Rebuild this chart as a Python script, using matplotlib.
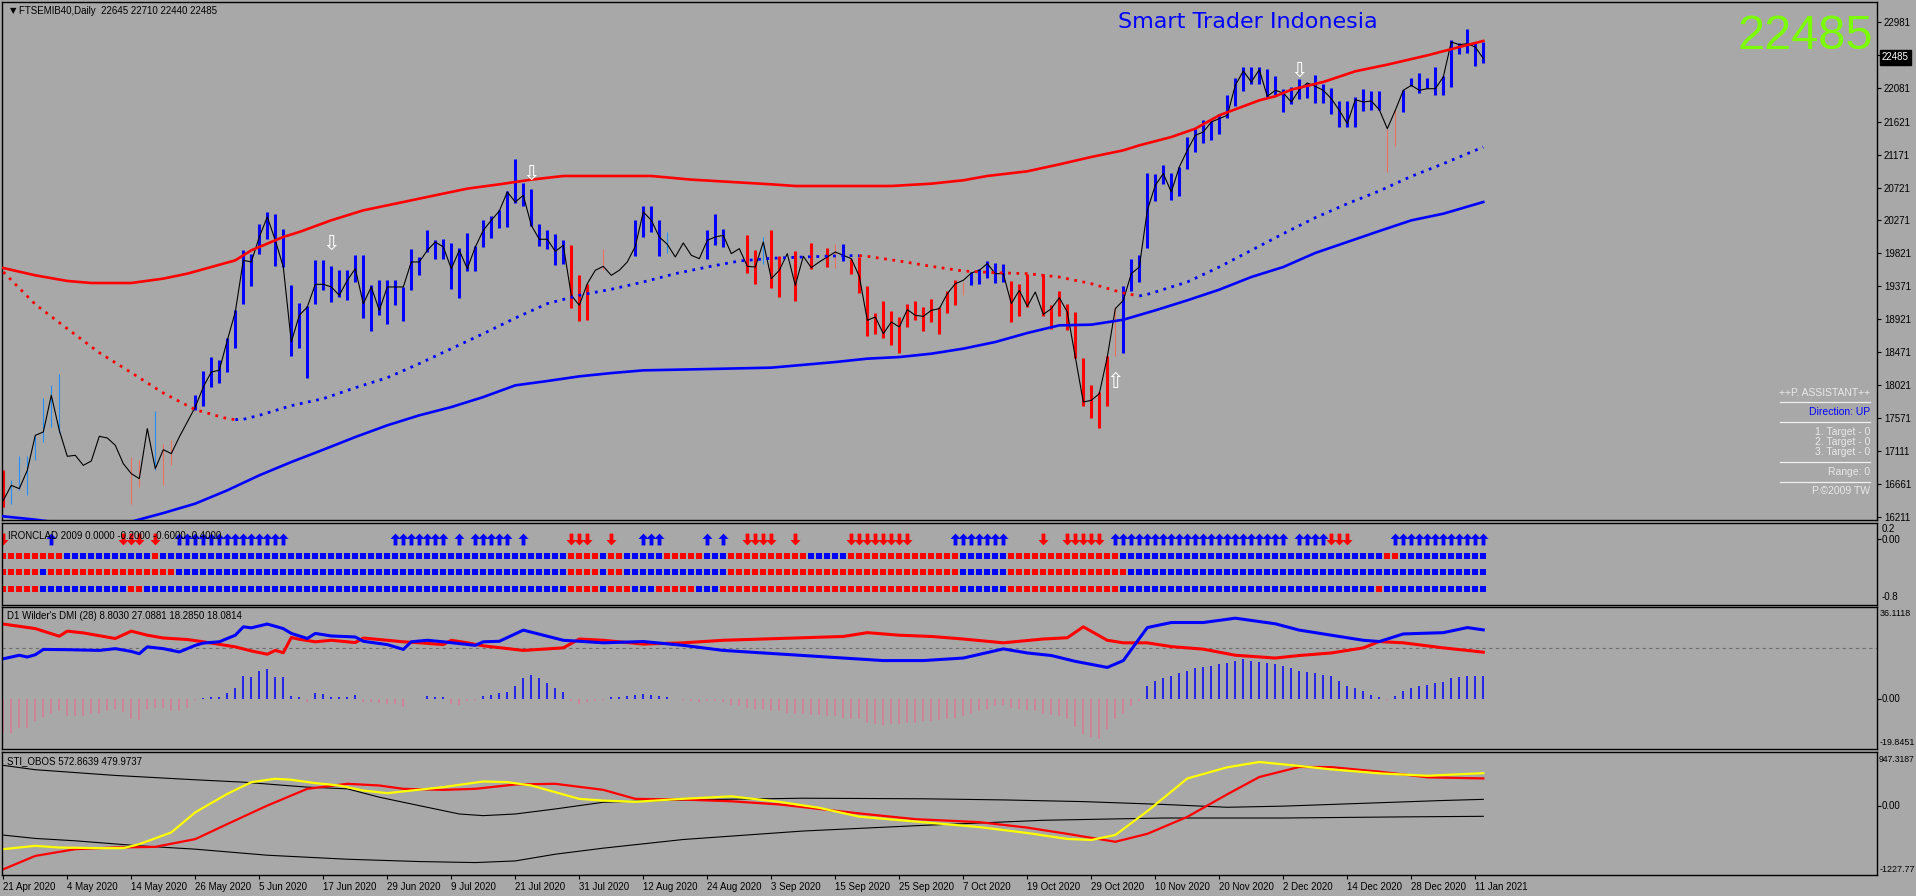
import matplotlib.pyplot as plt
from matplotlib.path import Path
from matplotlib.lines import Line2D

W, H = 1916, 896
BG = "#a8a8a8"
plt.rcParams["font.family"] = ["Liberation Sans", "DejaVu Sans"]

# ---------------- data ----------------
date_idx = [0, 8, 16, 24, 32, 40, 48, 56, 64, 72, 80, 88, 96, 104, 112, 120,
            128, 136, 144, 152, 160, 168, 176, 184]
date_labels = ["21 Apr 2020", "4 May 2020", "14 May 2020", "26 May 2020", "5 Jun 2020",
               "17 Jun 2020", "29 Jun 2020", "9 Jul 2020", "21 Jul 2020", "31 Jul 2020",
               "12 Aug 2020", "24 Aug 2020", "3 Sep 2020", "15 Sep 2020", "25 Sep 2020",
               "7 Oct 2020", "19 Oct 2020", "29 Oct 2020", "10 Nov 2020", "20 Nov 2020",
               "2 Dec 2020", "14 Dec 2020", "28 Dec 2020", "11 Jan 2021"]

close = [16442, 16647, 16602, 16853, 17331, 17377, 17879, 17400, 17044, 17058,
         16921, 16980, 17318, 17295, 17195, 16944, 16807, 16739, 17423, 16875,
         17135, 17081, 17309, 17514, 17719, 17993, 18198, 18221, 18631, 19019,
         19725, 19703, 20045, 20318, 19999, 19634, 18608, 18973, 19087, 19397,
         19397, 19361, 19247, 19452, 19611, 19133, 19361, 19041, 19361, 19361,
         19361, 19703, 19703, 19862, 19976, 19908, 19611, 19862, 19611, 19908,
         20136, 20273, 20400, 20660, 20523, 20615, 20204, 20013, 20013, 19848,
         19931, 19247, 19110, 19406, 19589, 19643, 19520, 19589, 19703, 19917,
         20387, 20273, 20045, 19944, 19771, 19963, 19794, 19748, 19999, 20045,
         20067, 19817, 19885, 19643, 19634, 19976, 19475, 19589, 19817, 19383,
         19780, 19625, 19703, 19771, 19839, 19794, 19748, 19507, 18905, 18950,
         18722, 18882, 18813, 19051, 18973, 18959, 19041, 19064, 19269, 19406,
         19452, 19552, 19589, 19680, 19543, 19543, 19132, 19315, 19096, 19292,
         18986, 19064, 19214, 19018, 18403, 17787, 17810, 17901, 18403, 19064,
         19178, 19543, 19634, 20409, 20751, 20911, 20660, 21002, 21230, 21435,
         21481, 21618, 21663, 21709, 22119, 22315, 22165, 22333, 21969, 22051,
         22014, 21891, 22060, 22151, 22105, 22051, 21937, 21777, 21595, 21923,
         21891, 21905, 21786, 21526, 21777, 22051, 22119, 22051, 22073, 22073,
         22233, 22712, 22675, 22689, 22643, 22485]

# B thick blue, R thick red, b thin blue, r thin salmon, . none
bar_kind = ("Rbbbbbbb.." "......rr.b" "rr..BBBBBB" + "B" * 40 +
            "BRRR.r...B" "BBBb....BB" "B..RRbRR.R" ".R.RrBRRRR" + "R" * 10 +
            "rBBBBBRRR." "RRRRRRRRRr" + "B" * 30 + "BBBrrBBBBB" "BBBBBB")

N = None
bar_hi = [16853, 16716, 17044, 17044, 17331, 17842, 18015, 18175, N, N,
          N, N, N, N, N, N, 17035, 16998, N, 17660,
          17217, 17263, N, N, 17879, 18207, 18398, 18366, 18663, 19041,
          19862, 19817, 20218, 20387, 20364, 20159, 19383, 19146, 19096, 19725,
          19725, 19648, 19589, 19589, 19794, 19803, 19383, 19452, 19452, 19452,
          19361, 19885, 19771, 20145, 19999, 20022, 19967, 19899, 20104, 19917,
          20282, 20332, 20409, 20669, 21116, 20783, 20706, 20227, 20145, 20090,
          19999, 19940, 19520, 19406, N, 19876, N, N, N, 20282,
          20464, 20464, 20273, 20113, N, N, N, N, 20136, 20364,
          20159, N, N, 20067, 19862, 20045, 20136, 19780, N, 19849,
          N, 19967, N, 19899, 19954, 19954, 19748, 19771, 19370, 19009,
          19164, 19028, 18950, 19123, 19164, 19087, 19201, 19087, 19301, 19452,
          19429, 19566, 19611, 19712, 19689, 19680, 19438, 19397, 19543, N,
          19543, 19110, 19301, 19132, 19018, 18389, 18015, 17924, 18412, 19087,
          19369, 19748, 19794, 20924, 20911, 21025, 20924, 21002, 21412, 21526,
          21640, 21640, 21731, 21991, 22224, 22370, 22370, 22370, 22347, 22242,
          22073, 22096, 22201, 22151, 22256, 22142, 22087, 21900, 21900, 21959,
          22073, 22037, 22037, 21526, 21777, 22060, 22219, 22292, 22219, 22370,
          22242, 22735, 22698, 22894, 22712, 22712]
bar_lo = [16351, 16396, 16579, 16511, 16989, 17240, 17445, 17363, N, N,
          N, N, N, N, N, N, 16396, 16625, N, 16862,
          16647, 16921, N, N, 17673, 17733, 17993, 18047, 18198, 18526,
          19133, 19370, 19808, 20013, 19643, 19634, 18412, 18531, 18116, 19133,
          19315, 19155, 19224, 19187, 19429, 18941, 18759, 18973, 18859, 19119,
          18895, 19324, 19520, 19839, 19748, 19748, 19338, 19210, 19579, 19579,
          19908, 20035, 20172, 20181, 20510, 20469, 20190, 19917, 19876, 19657,
          19680, 19073, 18895, 18905, N, 19598, N, N, N, 19780,
          20045, 20113, 19780, 19826, N, N, N, N, 19748, 19931,
          19908, N, N, 19552, 19397, 19671, 19347, 19224, N, 19164,
          N, 19611, N, 19634, 19625, 19716, 19543, 19278, 18690, 18713,
          18667, 18572, 18458, 18813, 18905, 18759, 18882, 18722, 19005, 19110,
          19256, 19393, 19397, 19484, 19415, 19429, 18882, 18964, 19087, N,
          18964, 18790, 18959, 18777, 18394, 17728, 17573, 17436, 17728, 18412,
          18457, 19306, 19429, 19894, 20537, 20765, 20546, 20605, 20979, 21207,
          21330, 21367, 21458, 21677, 21836, 22041, 22133, 22133, 21950, 21982,
          21754, 21868, 21937, 21950, 21882, 21877, 21731, 21549, 21549, 21549,
          21768, 21777, 21777, 20933, 21289, 21754, 22110, 22019, 22087, 21982,
          21982, 22096, 22552, 22566, 22384, 22424]

upper_idx = [0, 4, 8, 11, 16, 20, 23, 29, 31, 35, 37, 41, 45, 50, 54, 58, 62, 66, 70,
             81, 86, 91, 96, 99, 111, 116, 120, 123, 128, 132, 136, 140, 142, 146, 149,
             152, 157, 159, 161, 165, 169, 173, 178, 182, 185]
upper_val = [19620, 19520, 19443, 19415, 19415, 19475, 19543, 19725, 19862, 20045,
             20113, 20273, 20409, 20523, 20615, 20706, 20765, 20829, 20879, 20879,
             20829, 20797, 20765, 20742, 20742, 20774, 20820, 20879, 20943, 21038,
             21139, 21230, 21298, 21412, 21526, 21709, 21914, 21969, 22060, 22165,
             22311, 22402, 22529, 22643, 22726]

lower_idx = [0, 4, 8, 12, 16, 20, 24, 28, 32, 36, 40, 44, 48, 52, 56, 60, 64, 68, 72,
             76, 80, 88, 96, 104, 108, 112, 116, 120, 124, 128, 132, 136, 140, 144,
             148, 152, 156, 160, 164, 168, 172, 176, 180, 185]
lower_val = [16223, 16178, 16120, 16100, 16150, 16268, 16397, 16579, 16784, 16966,
             17135, 17308, 17468, 17605, 17718, 17855, 18015, 18074, 18138, 18183,
             18220, 18238, 18257, 18334, 18380, 18402, 18448, 18517, 18608, 18731,
             18836, 18845, 18913, 19041, 19178, 19324, 19497, 19634, 19826, 19976,
             20126, 20272, 20363, 20523]

mid_idx = [0, 4, 8, 12, 16, 20, 24, 28, 29, 30, 32, 36, 40, 44, 48, 52, 56, 60, 64,
           68, 72, 76, 80, 84, 88, 92, 96, 100, 104, 106, 107, 108, 112, 116, 120,
           124, 128, 132, 136, 140, 142, 143, 144, 148, 152, 156, 160, 164, 168,
           172, 176, 180, 184, 185]
mid_val = [19566, 19123, 18790, 18462, 18189, 17910, 17682, 17559, 17546, 17550,
           17605, 17737, 17833, 17983, 18120, 18312, 18517, 18722, 18936, 19133,
           19247, 19329, 19429, 19543, 19634, 19716, 19753, 19771, 19785, 19789,
           19789, 19780, 19716, 19643, 19579, 19556, 19543, 19497, 19406, 19278,
           19237, 19260, 19292, 19429, 19634, 19862, 20090, 20309, 20500, 20674,
           20874, 21047, 21230, 21275]
mid_red_spans = [(0, 29), (107, 142)]
mid_blue_spans = [(29, 107), (142, 185)]

arrow_dn_bar = [41, 66, 162]
arrow_dn_price = [19958, 20915, 22324]
arrow_up_bar = [139]
arrow_up_price = [18056]

price_ticks = [22981, 22531, 22081, 21621, 21171, 20721, 20271, 19821, 19371,
               18921, 18471, 18021, 17571, 17111, 16661, 16211]

iron_row1 = ("R" * 8 + "B" * 11 + "R" + "B" * 51 + "R" * 4 + "B" + "R" * 2 + "B" * 5 +
             "R" * 5 + "B" * 3 + "R" * 10 + "B" * 5 + "R" * 14 + "B" * 6 + "R" * 14 +
             "B" * 33 + "R" * 2 + "B" * 11)
iron_row2 = ("R" * 5 + "B" + "R" * 16 + "B" * 49 + "R" * 4 + "B" + "R" * 2 + "B" * 13 +
             "R" * 29 + "B" * 6 + "R" * 15 + "B" * 45)
iron_row3 = ("R" * 5 + "B" * 11 + "R" * 2 + "B" * 53 + "R" * 4 + "B" + "R" * 3 + "B" * 3 +
             "R" * 5 + "B" * 3 + "R" * 30 + "B" * 6 + "R" * 14 + "B" * 32 + "R" + "B" * 13)
iron_up = [6, 22, 23, 24, 25, 26, 27, 28, 29, 30, 31, 32, 33, 34, 35, 49, 50, 51, 52,
           53, 54, 55, 57, 59, 60, 61, 62, 63, 65, 80, 81, 82, 88, 90, 119, 120, 121,
           122, 123, 124, 125, 139, 140, 141, 142, 143, 144, 145, 146, 147, 148, 149,
           150, 151, 152, 153, 154, 155, 156, 157, 158, 159, 160, 162, 163, 164, 165,
           174, 175, 176, 177, 178, 179, 180, 181, 182, 183, 184, 185]
iron_dn = [0, 15, 16, 17, 19, 71, 72, 73, 76, 93, 94, 95, 96, 99, 106, 107, 108, 109,
           110, 111, 112, 113, 130, 133, 134, 135, 136, 137, 166, 167, 168]

dmi_plus_idx = [0, 2, 3, 4, 5, 8, 12, 14, 16, 17, 18, 20, 22, 24, 25, 27, 29, 30, 31,
                33, 35, 36, 38, 39, 41, 44, 45, 48, 50, 51, 53, 55, 57, 59, 60, 62, 65,
                70, 75, 80, 85, 90, 95, 100, 105, 110, 115, 120, 125, 128, 131, 134,
                138, 140, 143, 146, 150, 154, 159, 162, 166, 170, 172, 175, 180, 183, 185]
dmi_plus = [15.7, 17.1, 16.4, 17.3, 19.4, 19.3, 19.0, 19.7, 18.6, 17.7, 20.4, 19.7,
            18.4, 21.0, 21.9, 22.4, 25.0, 28.3, 27.9, 29.4, 27.6, 25.7, 23.7, 25.7,
            24.7, 24.3, 22.6, 21.3, 19.4, 22.4, 23.0, 22.4, 21.7, 21.0, 22.4, 22.6,
            27.0, 23.0, 22.0, 22.5, 21.0, 19.0, 18.0, 17.0, 16.0, 15.0, 15.0, 16.0,
            19.6, 18.0, 17.0, 14.7, 12.3, 15.0, 28.0, 30.0, 30.0, 31.7, 29.5, 27.0,
            25.0, 23.0, 22.5, 25.5, 26.0, 28.0, 27.1]
dmi_minus_idx = [0, 4, 7, 8, 10, 14, 16, 18, 20, 23, 25, 29, 31, 33, 34, 35, 36, 37,
                 39, 41, 43, 44, 45, 48, 50, 52, 55, 56, 58, 60, 62, 65, 70, 72, 75, 80,
                 85, 90, 95, 100, 105, 108, 112, 116, 120, 125, 130, 133, 135, 138, 140,
                 143, 146, 150, 154, 159, 162, 166, 170, 172, 175, 180, 183, 185]
dmi_minus = [29.4, 27.6, 24.6, 26.6, 25.9, 23.7, 26.6, 25.0, 23.9, 23.3, 22.4, 20.4,
             18.8, 17.5, 19.0, 18.1, 24.1, 23.4, 22.4, 23.0, 22.4, 22.1, 23.9, 23.0,
             22.4, 22.0, 21.3, 23.0, 22.0, 20.8, 20.1, 19.0, 20.0, 23.5, 23.0, 21.5,
             22.0, 23.0, 23.5, 24.0, 24.5, 26.0, 25.0, 24.5, 23.5, 22.0, 23.5, 24.0,
             28.3, 23.0, 22.0, 22.0, 20.5, 19.5, 17.1, 16.0, 17.0, 18.0, 20.0, 22.5,
             22.0, 20.0, 19.0, 18.3]
dmi_hist = [-13.5, -13.5, -11.4, -11.4, -8.7, -7.4, -6.1, -4.8, -6.7, -6.7,
            -6.7, -6.1, -5.8, -4.8, -4.1, -5.4, -8.1, -8.3, -4.1, -3.7,
            -3.7, -4.8, -4.8, -3.7, -0.4, 0.4, 0.5, 0.5, 2.1, 4.2,
            9.1, 8.7, 10.8, 11.5, 8.7, 8.5, 0.9, 0.8, -1.5, 2.1,
            1.9, 0.8, 0.8, 0.5, 1.6, -1.5, -1.5, -1.9, -2.1, -2.1,
            -3.4, -0.3, -0.3, 1.2, 0.5, 0.8, -2.1, -2.4, -0.8, -0.5,
            1.2, 1.6, 2.1, 2.5, 5.0, 8.0, 9.5, 8.0, 6.0, 4.0,
            2.5, -1.0, -2.0, -1.5, -1.0, -0.5, 0.5, 0.5, 1.0, 1.5,
            2.0, 1.5, 1.0, 0.5, 0.0, -0.5, -1.0, -1.5, -1.0, -1.0,
            -1.5, -2.5, -3.0, -3.5, -4.0, -4.0, -5.0, -5.0, -5.5, -6.0,
            -6.0, -6.5, -6.5, -7.0, -7.0, -7.5, -8.0, -8.0, -9.5, -10.0,
            -10.5, -10.0, -10.0, -9.5, -9.5, -9.0, -9.0, -8.5, -8.0, -7.5,
            -7.0, -6.0, -5.0, -4.0, -3.0, -2.5, -3.5, -4.0, -4.5, -5.0,
            -6.0, -6.5, -7.0, -8.0, -11.0, -14.0, -15.0, -16.0, -12.0, -8.0,
            -6.0, -3.0, -1.0, 5.0, 7.0, 8.0, 9.0, 10.0, 11.0, 12.0,
            12.5, 13.0, 13.5, 14.0, 15.0, 15.5, 15.0, 14.5, 14.0, 13.5,
            13.0, 12.0, 11.0, 10.5, 10.0, 9.5, 9.0, 7.0, 5.0, 4.0,
            3.0, 1.5, 0.5, -0.5, 1.0, 3.0, 4.0, 5.0, 5.5, 6.0,
            6.5, 8.0, 8.5, 9.0, 9.0, 8.8]

sti_yel_idx = [0, 4, 7, 12, 15, 17, 21, 24, 28, 31, 34, 36, 39, 42, 45, 48, 51, 55,
               60, 63, 66, 69, 72, 75, 79, 85, 91, 97, 102, 107, 114, 122, 128, 133,
               136, 139, 143, 148, 153, 157, 162, 166, 172, 178, 185]
sti_yel = [-771, -712, -742, -753, -753, -682, -475, -119, 207, 414, 474, 456, 397,
           355, 266, 219, 266, 326, 426, 414, 355, 237, 118, 88, 66, 120, 163, 66,
           -40, -196, -283, -380, -485, -590, -608, -520, -100, 479, 677, 771, 700,
           640, 570, 527, 573]
sti_red_idx = [0, 4, 9, 14, 19, 24, 28, 33, 38, 43, 47, 50, 55, 59, 64, 69, 75, 79,
               85, 91, 97, 102, 107, 114, 122, 128, 133, 136, 139, 143, 148, 153, 157,
               162, 166, 172, 178, 185]
sti_red = [-1127, -890, -771, -742, -730, -593, -327, 0, 296, 385, 355, 296, 278, 296,
           373, 385, 278, 119, 106, 76, 20, -60, -139, -240, -293, -390, -500, -570,
           -640, -500, -200, 200, 505, 683, 680, 600, 500, 480]
sti_up_idx = [0, 4, 14, 24, 30, 38, 43, 47, 52, 57, 60, 64, 69, 75, 85, 100, 115, 125,
              135, 145, 153, 160, 170, 180, 185]
sti_up = [711, 634, 533, 456, 414, 326, 296, 148, -1, -149, -178, -149, -60, 59, 100,
          130, 120, 100, 70, 20, -30, -10, 40, 90, 110]
sti_lo_idx = [0, 4, 9, 17, 24, 33, 43, 52, 59, 64, 69, 75, 85, 100, 115, 130, 145, 160,
              175, 185]
sti_lo = [-522, -581, -623, -712, -771, -878, -949, -990, -1008, -979, -860, -753,
          -600, -450, -350, -260, -220, -220, -200, -190]

# ---------------- drawing ----------------
fig = plt.figure(figsize=(W / 100, H / 100), dpi=100, facecolor=BG)
XL = ((2 - 3.3) / 8, (1877 - 3.3) / 8)


def panel(top, bottom):
    ax = fig.add_axes([2 / W, 1 - bottom / H, 1875 / W, (bottom - top) / H])
    ax.set_facecolor(BG)
    ax.set_xlim(XL)
    for s in ax.spines.values():
        s.set_color("black")
        s.set_linewidth(1.0)
    ax.set_xticks([])
    ax.yaxis.tick_right()
    ax.tick_params(axis="y", length=3, width=0.8, labelsize=7, pad=2, colors="black")
    return ax


def ftext(x, y, s, **kw):
    kw.setdefault("fontsize", 7)
    kw.setdefault("color", "black")
    return fig.text(x / W, 1 - y / H, s, **kw)


# main chart
ax = panel(2, 520)
ax.set_ylim(16173, 23259)
ax.set_yticks(price_ticks)
ax.set_yticklabels([str(v) for v in price_ticks])

n = len(close)
for kind, col, lw in [("B", "#0000ff", 2.2), ("R", "#ff0000", 2.2),
                      ("b", "#1e90ff", 0.8), ("r", "#f07060", 0.8)]:
    idx = [i for i in range(n) if bar_kind[i] == kind]
    ax.vlines(idx, [bar_lo[i] for i in idx], [bar_hi[i] for i in idx],
              colors=col, lw=lw, zorder=2)
ax.plot(range(n), close, color="black", lw=0.8, zorder=3)
ax.plot(upper_idx, upper_val, color="#ff0000", lw=1.9, zorder=4)
ax.plot(lower_idx, lower_val, color="#0000ff", lw=1.9, zorder=4)
for spans, col in [(mid_red_spans, "#ff0000"), (mid_blue_spans, "#0000ff")]:
    for a, b in spans:
        xs = [i for i in mid_idx if a <= i <= b]
        ys = [mid_val[mid_idx.index(i)] for i in xs]
        ax.plot(xs, ys, color=col, lw=2.0, dashes=(1, 2.0), zorder=4)
for i, p in zip(arrow_dn_bar, arrow_dn_price):
    ax.text(i, p, "\u21e9", ha="center", va="center", color="white", fontsize=15,
            family="DejaVu Sans", zorder=5)
for i, p in zip(arrow_up_bar, arrow_up_price):
    ax.text(i, p, "\u21e7", ha="center", va="center", color="white", fontsize=15,
            family="DejaVu Sans", zorder=5)

ftext(10, 11, "\u25bc", fontsize=6, va="center", family="DejaVu Sans")
ftext(19, 11, "FTSEMIB40,Daily  22645 22710 22440 22485", va="center")
ftext(1248, 22, "Smart Trader Indonesia", fontsize=16, color="#0000ff",
      ha="center", va="center", family="DejaVu Sans")
ftext(1873, 14, "22485", fontsize=35, color="#7cfc00", ha="right", va="top")
ftext(1882, 57.5, "22485", color="white", va="center",
      bbox=dict(facecolor="black", edgecolor="black", pad=1.6))

# P. assistant box
grey_txt = "#e8e8e8"
ftext(1870, 392.5, "++P. ASSISTANT++", fontsize=7.5, color=grey_txt, ha="right", va="center")
ftext(1870, 412, "Direction: UP", fontsize=7.5, color="#0000ff", ha="right", va="center")
ftext(1870, 432, "1. Target - 0", fontsize=7.5, color=grey_txt, ha="right", va="center")
ftext(1870, 442, "2. Target - 0", fontsize=7.5, color=grey_txt, ha="right", va="center")
ftext(1870, 452, "3. Target - 0", fontsize=7.5, color=grey_txt, ha="right", va="center")
ftext(1870, 471.5, "Range: 0", fontsize=7.5, color=grey_txt, ha="right", va="center")
ftext(1870, 491, "P.\u00a92009 TW", fontsize=7.5, color=grey_txt, ha="right", va="center")
for yy in [402.5, 422, 462, 481.5]:
    fig.add_artist(Line2D([1780 / W, 1870 / W], [1 - yy / H] * 2, color="#f0f0f0", lw=0.9))

# IRONCLAD
ax2 = panel(523, 605)
ax2.set_ylim(-0.8, 0.2)
ax2.set_yticks([0])
ax2.set_yticklabels([""])
for row, yv in [(iron_row1, -0.2), (iron_row2, -0.4), (iron_row3, -0.6)]:
    cols = ["#ff0000" if c == "R" else "#0000ff" for c in row]
    ax2.scatter(range(n), [yv] * n, c=cols, marker="s", s=19, linewidths=0)
up_arrow = Path([(0, 1), (0.85, 0.1), (0.32, 0.1), (0.32, -1), (-0.32, -1),
                 (-0.32, 0.1), (-0.85, 0.1), (0, 1)],
                [Path.MOVETO] + [Path.LINETO] * 6 + [Path.CLOSEPOLY])
dn_arrow = Path([(x, -y) for x, y in up_arrow.vertices], up_arrow.codes)
ax2.plot(iron_up, [0] * len(iron_up), ls="none", marker=up_arrow, ms=8.5,
         color="#0000ff", mew=0)
ax2.plot(iron_dn, [0] * len(iron_dn), ls="none", marker=dn_arrow, ms=8.5,
         color="#ff0000", mew=0)
ftext(8, 536, "IRONCLAD 2009 0.0000 -0.2000 -0.6000 -0.4000", va="center")
ftext(1882, 529, "0.2", va="center")
ftext(1882, 540, "0.00", va="center")
ftext(1882, 597, "-0.8", va="center")

# DMI
ax3 = panel(607, 749)
ax3.set_ylim(-19.8451, 36.1118)
ax3.set_yticks([0])
ax3.set_yticklabels([""])
pos = [i for i in range(n) if dmi_hist[i] >= 0]
neg = [i for i in range(n) if dmi_hist[i] < 0]
ax3.vlines(pos, 0, [dmi_hist[i] for i in pos], colors="#0000ff", lw=1.1)
ax3.vlines(neg, 0, [dmi_hist[i] for i in neg], colors="#d87a93", lw=1.1)
ax3.axhline(20, color="#6e6e6e", lw=0.8, dashes=(3, 3))
ax3.plot(dmi_minus_idx, dmi_minus, color="#ff0000", lw=2.2)
ax3.plot(dmi_plus_idx, dmi_plus, color="#0000ff", lw=2.2)
ftext(7, 616, "D1 Wilder's DMI (28) 8.8030 27.0881 18.2850 18.0814", va="center")
ftext(1880, 613, "36.1118", va="center", fontsize=6.4)
ftext(1882, 698.5, "0.00", va="center")
ftext(1880, 742, "-19.8451", va="center", fontsize=6.4)

# STI_OBOS
ax4 = panel(752, 875)
ax4.set_ylim(-1227.7731, 947.3187)
ax4.set_yticks([0])
ax4.set_yticklabels([""])
ax4.plot(sti_up_idx, sti_up, color="black", lw=0.8)
ax4.plot(sti_lo_idx, sti_lo, color="black", lw=0.8)
ax4.plot(sti_red_idx, sti_red, color="#ff0000", lw=1.6)
ax4.plot(sti_yel_idx, sti_yel, color="#ffff00", lw=1.6)
ax4.set_xticks(date_idx)
ax4.set_xticklabels(date_labels, ha="left", fontsize=7)
ax4.tick_params(axis="x", direction="out", length=3, width=0.8, pad=2)
ftext(7, 761, "STI_OBOS 572.8639 479.9737", va="center")
ftext(1879, 759, "947.3187", va="center", fontsize=6.2)
ftext(1882, 806, "0.00", va="center")
ftext(1880, 869, "-1227.77", va="center", fontsize=6.4)

fig.savefig("out.png", dpi=100, facecolor=BG)
